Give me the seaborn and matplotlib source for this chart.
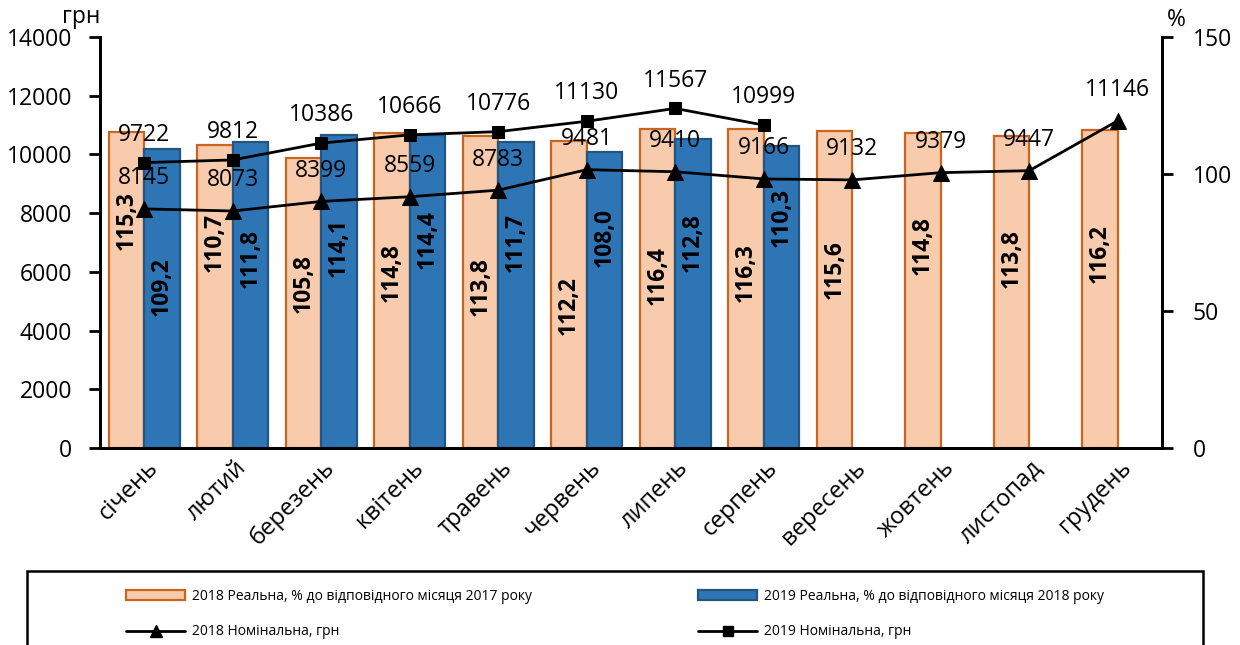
import numpy as np
import pandas as pd
import seaborn as sns
import matplotlib.pyplot as plt
import matplotlib.transforms as mtransforms
from matplotlib.patches import Rectangle, Patch
from matplotlib.lines import Line2D

months = ['січень', 'лютий', 'березень', 'квітень', 'травень', 'червень',
          'липень', 'серпень', 'вересень', 'жовтень', 'листопад', 'грудень']

# real wages, % to the same month of previous year (bars, right axis)
real_2018 = [115.3, 110.7, 105.8, 114.8, 113.8, 112.2, 116.4, 116.3, 115.6, 114.8, 113.8, 116.2]
real_2019 = [109.2, 111.8, 114.1, 114.4, 111.7, 108.0, 112.8, 110.3]

# nominal wages, UAH (lines, left axis)
nominal_2018 = [8145, 8073, 8399, 8559, 8783, 9481, 9410, 9166, 9132, 9379, 9447, 11146]
nominal_2019 = [9722, 9812, 10386, 10666, 10776, 11130, 11567, 10999]

# where the rotated bar labels sit (in % units)
label_y_2018 = [83, 75, 60, 64, 59, 52, 63, 64, 65, 74, 69, 71]
label_y_2019 = [59, 69, 73, 76, 75, 77, 75, 84]

lbl_real_2018 = '2018 Реальна, % до відповідного місяця 2017 року'
lbl_real_2019 = '2019 Реальна, % до відповідного місяця 2018 року'
lbl_nom_2018 = '2018 Номінальна, грн'
lbl_nom_2019 = '2019 Номінальна, грн'

orange, orange_edge = '#F8CBAD', '#C9651E'
blue, blue_edge = '#2E75B6', '#24557F'

sns.set_style('white')
plt.rcParams['font.family'] = ['Open Sans', 'DejaVu Sans']
plt.rcParams.update({'text.color': 'black', 'axes.labelcolor': 'black',
                     'xtick.color': 'black', 'ytick.color': 'black'})

bars = pd.DataFrame({
    'month': months + months[:len(real_2019)],
    'value': real_2018 + real_2019,
    'series': [lbl_real_2018] * 12 + [lbl_real_2019] * len(real_2019),
})

fig = plt.figure(figsize=(12.4, 6.45), dpi=100)
ax = fig.add_axes([100 / 1240, 1 - 448 / 645, (1162 - 100) / 1240, (448 - 37) / 645])

sns.barplot(data=bars, x='month', y='value', hue='series', order=months,
            hue_order=[lbl_real_2018, lbl_real_2019],
            palette=[orange, blue], width=0.8, saturation=1,
            legend=False, ax=ax)

for cont, ec in zip(ax.containers, [orange_edge, blue_edge]):
    for p in cont:
        p.set_edgecolor(ec)
        p.set_linewidth(1.6)

# rotated value labels inside bars
for cont, vals, ys in zip(ax.containers, [real_2018, real_2019], [label_y_2018, label_y_2019]):
    for p, v, yy in zip(cont, vals, ys):
        ax.text(p.get_x() + p.get_width() / 2, yy, f'{v:.1f}'.replace('.', ','),
                rotation=90, ha='center', va='center', fontsize=16.5,
                fontweight='bold', color='black')

ax.set_ylim(0, 150)
ax.set_xlim(-0.5, 11.5)
ax.set_yticks([0, 50, 100, 150])
ax.set_xlabel('')
ax.set_ylabel('')

ax2 = ax.twinx()
x18 = np.arange(len(nominal_2018))
x19 = np.arange(len(nominal_2019))
sns.lineplot(x=x18, y=nominal_2018, color='black', linewidth=2, marker='^',
             markersize=11, markeredgecolor='black', ax=ax2)
sns.lineplot(x=x19, y=nominal_2019, color='black', linewidth=2, marker='s',
             markersize=8, markeredgecolor='black', ax=ax2)

for x, v in zip(x18, nominal_2018):
    ax2.annotate(str(v), (x, v), xytext=(0, 22), textcoords='offset points',
                 ha='center', va='center', fontsize=16.5)
for x, v in zip(x19, nominal_2019):
    ax2.annotate(str(v), (x, v), xytext=(0, 20), textcoords='offset points',
                 ha='center', va='center', fontsize=16.5)

ax2.set_ylim(0, 14000)
ax2.set_yticks(range(0, 14001, 2000))
ax2.set_xlim(-0.5, 11.5)

# swap sides: bars (%) on the right, lines (грн) on the left
ax.yaxis.set_ticks_position('right')
ax2.yaxis.set_ticks_position('left')

for a in (ax, ax2):
    a.spines['top'].set_visible(False)
    for s in ('left', 'right', 'bottom'):
        a.spines[s].set_color('black')
        a.spines[s].set_linewidth(2)

ax.tick_params(axis='y', which='both', direction='out', length=8, width=2,
               labelsize=16.5, pad=14, right=True, left=False,
               labelright=True, labelleft=False)
ax2.tick_params(axis='y', direction='out', length=8, width=2, labelsize=16.5,
                pad=12, left=True, right=False, labelleft=True, labelright=False)

ax.set_xticks(range(12))
ax.set_xticklabels(months, rotation=45, ha='right', va='center',
                   rotation_mode='anchor', fontsize=17)
ax.set_xticks(np.arange(-0.5, 12, 1), minor=True)
ax.tick_params(axis='x', which='major', length=0, pad=12)
ax.tick_params(axis='x', which='minor', direction='out', length=8, width=2)
shift = mtransforms.ScaledTranslation(10 / 100, 0, fig.dpi_scale_trans)
for t in ax.get_xticklabels():
    t.set_transform(t.get_transform() + shift)

fig.text(81 / 1240, 1 - 17 / 645, 'грн', fontsize=16.5, ha='center', va='center')
fig.text(1176 / 1240, 1 - 20 / 645, '%', fontsize=16.5, ha='center', va='center')

# legend box at the bottom
fig.patches.append(Rectangle((27 / 1240, -0.05), 1176 / 1240, 0.05 + (645 - 571) / 645,
                             transform=fig.transFigure, fill=False,
                             edgecolor='black', linewidth=1.8))
handles = [
    Patch(facecolor=orange, edgecolor=orange_edge, linewidth=1.6),
    Line2D([], [], color='black', linewidth=2, marker='^', markersize=9),
    Patch(facecolor=blue, edgecolor=blue_edge, linewidth=1.6),
    Line2D([], [], color='black', linewidth=2, marker='s', markersize=7),
]
labels = [lbl_real_2018, lbl_nom_2018, lbl_real_2019, lbl_nom_2019]
fig.legend(handles, labels, ncol=2, loc='center', bbox_to_anchor=(615 / 1240, 1 - 614 / 645),
           frameon=False, fontsize=10, handlelength=4.2, handletextpad=0.5,
           columnspacing=12, labelspacing=1.5)

fig.savefig('out.png', dpi=100)
